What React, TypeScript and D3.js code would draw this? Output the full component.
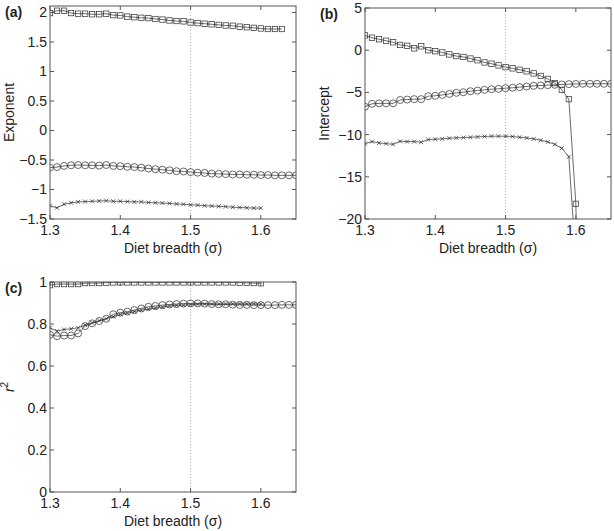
import React from "react";
import * as d3 from "d3";

// x grid (diet breadth sigma)
const sigma = [1.30,1.31,1.32,1.33,1.34,1.35,1.36,1.37,1.38,1.39,1.40,1.41,1.42,1.43,1.44,1.45,1.46,1.47,1.48,1.49,1.50,1.51,1.52,1.53,1.54,1.55,1.56,1.57,1.58,1.59,1.60,1.61,1.62,1.63,1.64,1.65];
const xTicks = [1.3, 1.4, 1.5, 1.6];

// (a) Exponent
const expSquares = [1.99,2.03,2.03,1.99,1.98,1.98,1.97,1.97,1.98,1.955,1.95,1.93,1.92,1.91,1.905,1.89,1.88,1.865,1.855,1.85,1.83,1.82,1.81,1.80,1.79,1.78,1.775,1.76,1.75,1.74,1.73,1.72,1.72,1.72];
const expCircles = [-0.63,-0.62,-0.60,-0.59,-0.585,-0.59,-0.59,-0.595,-0.585,-0.60,-0.605,-0.615,-0.62,-0.63,-0.645,-0.655,-0.665,-0.675,-0.69,-0.695,-0.705,-0.715,-0.72,-0.73,-0.735,-0.74,-0.745,-0.745,-0.75,-0.75,-0.755,-0.755,-0.76,-0.76,-0.76,-0.76];
const expCrosses = [-1.275,-1.31,-1.25,-1.225,-1.21,-1.205,-1.2,-1.195,-1.19,-1.2,-1.2,-1.205,-1.21,-1.21,-1.22,-1.225,-1.23,-1.235,-1.245,-1.25,-1.26,-1.265,-1.275,-1.28,-1.285,-1.29,-1.3,-1.305,-1.31,-1.315,-1.315];
const expTicks = [-1.5,-1,-0.5,0,0.5,1,1.5,2];

// (b) Intercept
const intSquares = [1.75,1.48,1.3,1.12,0.94,0.62,0.52,0.22,0.46,0.0,-0.12,-0.27,-0.5,-0.7,-0.8,-0.99,-1.19,-1.45,-1.6,-1.8,-2.0,-2.15,-2.32,-2.5,-2.75,-3.05,-3.4,-3.9,-4.7,-5.8,-18.2,-60];
const intCircles = [-6.7,-6.35,-6.3,-6.3,-6.3,-5.9,-5.85,-5.8,-5.8,-5.45,-5.4,-5.3,-5.18,-5.05,-4.98,-4.86,-4.78,-4.7,-4.62,-4.58,-4.5,-4.45,-4.38,-4.3,-4.22,-4.18,-4.14,-4.1,-4.06,-4.02,-4.0,-3.98,-3.98,-3.98,-3.98,-3.98];
const intCrosses = [-11.07,-10.83,-10.99,-11.07,-11.15,-10.79,-10.83,-10.83,-10.9,-10.59,-10.55,-10.5,-10.43,-10.39,-10.35,-10.31,-10.27,-10.23,-10.19,-10.19,-10.19,-10.23,-10.31,-10.39,-10.51,-10.67,-10.87,-11.15,-11.62,-12.62,-25];
const intTicks = [-20,-15,-10,-5,0,5];

// (c) r^2
const rsqSquares = [0.985,0.99,0.99,0.99,0.99,0.995,0.995,0.995,0.997,0.998,0.998,0.998,0.998,0.998,0.998,0.998,0.998,0.998,0.998,0.998,0.998,0.998,0.998,0.998,0.998,0.998,0.998,0.997,0.996,0.995,0.994];
const rsqCircles = [0.749,0.742,0.745,0.745,0.755,0.79,0.803,0.814,0.825,0.846,0.854,0.859,0.866,0.874,0.882,0.886,0.89,0.893,0.895,0.897,0.898,0.898,0.897,0.895,0.894,0.894,0.892,0.891,0.891,0.89,0.89,0.89,0.89,0.891,0.891,0.891];
const rsqCrosses = [0.782,0.766,0.774,0.777,0.782,0.795,0.806,0.816,0.825,0.835,0.846,0.852,0.859,0.866,0.871,0.876,0.881,0.886,0.889,0.89,0.892,0.894,0.895,0.895,0.895,0.895,0.896,0.896,0.896,0.896,0.895];
const rsqTicks = [0, 0.2, 0.4, 0.6, 0.8, 1];

const FONT = "'Liberation Sans', Arial, Helvetica, sans-serif";
const INK = "#2a2a2a";
const AX = "#555";

type Series = { values: number[]; marker: "square" | "circle" | "cross" };

function fmt(v: number) {
  const s = String(v);
  return s.startsWith("-") ? "\u2212" + s.slice(1) : s;
}

function Marker({ kind, x, y }: { kind: string; x: number; y: number }) {
  if (kind === "square")
    return <rect x={x - 2.7} y={y - 2.7} width={5.4} height={5.4} fill="none" stroke={INK} strokeWidth={0.7} />;
  if (kind === "circle")
    return <circle cx={x} cy={y} r={3.5} fill="none" stroke={INK} strokeWidth={0.7} />;
  return (
    <path d={`M${x - 2},${y - 2}L${x + 2},${y + 2}M${x - 2},${y + 2}L${x + 2},${y - 2}`} stroke={INK} strokeWidth={0.7} />
  );
}

function Panel({
  id, left, right, top, bottom, yDomain, yTicks, series, label, ylabel,
}: {
  id: string; left: number; right: number; top: number; bottom: number;
  yDomain: [number, number]; yTicks: number[]; series: Series[]; label: string; ylabel: React.ReactNode;
}) {
  const x = d3.scaleLinear().domain([1.3, 1.65]).range([left, right]);
  const y = d3.scaleLinear().domain(yDomain).range([bottom, top]);
  const line = d3.line<[number, number]>().x((d) => x(d[0])).y((d) => y(d[1]));
  const tl = 4;
  const cx = (left + right) / 2;
  const cy = (top + bottom) / 2;
  return (
    <g>
      <defs>
        <clipPath id={"clip" + id}>
          <rect x={left} y={top} width={right - left} height={bottom - top} />
        </clipPath>
      </defs>
      <line x1={x(1.5)} x2={x(1.5)} y1={top} y2={bottom} stroke="#999" strokeWidth={0.8} strokeDasharray="1,2" />
      <g clipPath={`url(#clip${id})`}>
        {series.map((s, si) => {
          const pts = s.values.map((v, i) => [sigma[i], v] as [number, number]);
          return (
            <g key={si}>
              <path d={line(pts) || ""} fill="none" stroke={INK} strokeWidth={0.7} />
              {pts.map((p, i) => (
                <Marker key={i} kind={s.marker} x={x(p[0])} y={y(p[1])} />
              ))}
            </g>
          );
        })}
      </g>
      <rect x={left} y={top} width={right - left} height={bottom - top} fill="none" stroke={AX} strokeWidth={1} />
      {xTicks.map((t) => (
        <g key={"x" + t}>
          <line x1={x(t)} x2={x(t)} y1={bottom} y2={bottom - tl} stroke={AX} />
          <line x1={x(t)} x2={x(t)} y1={top} y2={top + tl} stroke={AX} />
          <text x={x(t)} y={bottom + 16} textAnchor="middle" fontSize={14} fontFamily={FONT} fill="#222">{t.toFixed(1)}</text>
        </g>
      ))}
      {yTicks.map((t) => (
        <g key={"y" + t}>
          <line x1={left} x2={left + tl} y1={y(t)} y2={y(t)} stroke={AX} />
          <line x1={right} x2={right - tl} y1={y(t)} y2={y(t)} stroke={AX} />
          <text x={left - 3} y={y(t) + 5} textAnchor="end" fontSize={14} fontFamily={FONT} fill="#222">{fmt(t)}</text>
        </g>
      ))}
      <text x={cx} y={bottom + 34} textAnchor="middle" fontSize={14} fontFamily={FONT} fill="#222">Diet breadth (σ)</text>
      <text transform={`translate(${left - 36},${cy}) rotate(-90)`} textAnchor="middle" fontSize={14} fontFamily={FONT} fill="#222">{ylabel}</text>
      <text x={left - 45} y={top + 11} fontSize={14} fontWeight="bold" fontFamily={FONT} fill="#222">{label}</text>
    </g>
  );
}

export default function App() {
  return (
    <svg width={614} height={531} style={{ position: "absolute", left: 0, top: 0, background: "#fff" }}>
      <rect width={614} height={531} fill="#fff" />
      <Panel id="a" left={50} right={296} top={6} bottom={219} yDomain={[-1.5, 2.11]} yTicks={expTicks}
        series={[{ values: expSquares, marker: "square" }, { values: expCircles, marker: "circle" }, { values: expCrosses, marker: "cross" }]}
        label="(a)" ylabel="Exponent" />
      <Panel id="b" left={365} right={611} top={8} bottom={219} yDomain={[-20, 5]} yTicks={intTicks}
        series={[{ values: intSquares, marker: "square" }, { values: intCircles, marker: "circle" }, { values: intCrosses, marker: "cross" }]}
        label="(b)" ylabel="Intercept" />
      <Panel id="c" left={50} right={296} top={282} bottom={492} yDomain={[0, 1]} yTicks={rsqTicks}
        series={[{ values: rsqSquares, marker: "square" }, { values: rsqCircles, marker: "circle" }, { values: rsqCrosses, marker: "cross" }]}
        label="(c)" ylabel={<><tspan fontStyle="italic">r</tspan><tspan dy={-6} fontSize={10}>2</tspan></>} />
    </svg>
  );
}
